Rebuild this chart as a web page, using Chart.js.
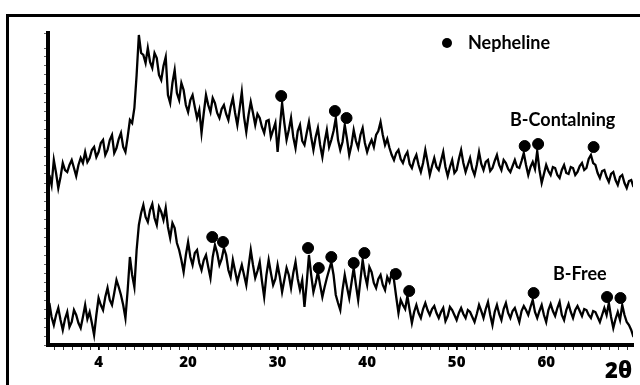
<!DOCTYPE html>
<html>
<head>
<meta charset="utf-8">
<script src="https://cdn.jsdelivr.net/npm/chart.js"></script>
<style>
  html, body { margin: 0; padding: 0; background: #fff; }
  #wrap { width: 640px; height: 385px; }
</style>
</head>
<body>
<div id="wrap"><canvas id="xrdChart" width="640" height="385"></canvas></div>
<script>
// 2θ grid of the two scans (0.25° step, 4.5 .. 70)
const angleStart = 4.5;
const angleStep = 0.25;

// B-Containing scan (upper curve, arbitrary intensity), one row per degree
const containing = [
  170, 160, 185, 172,  157, 168, 182, 175,  173, 180, 185, 177,  169, 180, 187, 182,
  193, 183, 187, 195,  198, 188, 193, 202,  205, 190, 195, 205,  210, 192, 197, 206,
  212, 198, 193, 208,  225, 222, 237, 270,  310, 292, 290, 282,  297, 283, 277, 292,
  287, 270, 265, 279,  288, 250, 242, 262,  275, 252, 245, 262,  255, 240, 233, 245,
  250, 238, 227, 235,  212, 232, 250, 240,  233, 247, 242, 232,  227, 236, 240, 231,
  225, 238, 247, 232,  220, 236, 253, 228,  213, 230, 243, 232,  220, 231, 227, 218,
  212, 224, 225, 208,  215, 222, 193, 218,  242, 222, 205, 215,  227, 208, 197, 214,
  220, 204, 200, 212,  223, 208, 195, 208,  217, 200, 188, 203,  215, 198, 205, 214,
  227, 205, 195, 203,  220, 206, 190, 200,  215, 204, 197, 210,  217, 202, 193, 200,
  205, 198, 210, 214,  223, 210, 200, 206,  197, 190, 185, 192,  195, 186, 182, 189,
  193, 181, 177, 185,  190, 180, 173, 182,  195, 183, 170, 179,  187, 178, 175, 184,
  193, 178, 169, 178,  185, 172, 175, 186,  195, 182, 173, 180,  187, 176, 170, 180,
  193, 181, 175, 183,  185, 174, 177, 184,  190, 180, 175, 185,  182, 176, 173, 179,
  185, 178, 177, 184,  192, 180, 170, 178,  183, 176, 194, 175,  162, 171, 180, 174,
  170, 178, 177, 170,  167, 175, 180, 172,  171, 178, 177, 170,  173, 179, 182, 175,
  177, 186, 190, 182,  180, 172, 167, 174,  175, 168, 163, 171,  173, 165, 160, 168,
  170, 162, 157, 164,  165, 158, 153
];

// B-Free scan (lower curve)
const free = [
  42, 28, 20, 30,  37, 25, 15, 26,  33, 18, 23, 35,  30, 22, 17, 28,
  40, 26, 33, 22,  10, 30, 47, 40,  35, 48, 57, 45,  40, 52, 65, 58,
  50, 40, 27, 55,  88, 70, 58, 95,  120, 132, 140, 128,  123, 135, 141, 127,
  120, 138, 133, 125,  137, 118, 107, 122,  117, 102, 95, 85,  73, 90, 103, 88,
  80, 92, 95, 82,  75, 85, 90, 78,  67, 88, 100, 92,  80, 86, 97, 90,
  75, 68, 85, 74,  63, 72, 80, 70,  60, 78, 95, 80,  67, 74, 83, 64,
  48, 70, 85, 72,  60, 66, 80, 68,  53, 65, 77, 70,  57, 72, 83, 66,
  55, 65, 38, 62,  90, 70, 53, 62,  73, 60, 48, 58,  67, 75, 83, 70,
  50, 42, 35, 55,  70, 58, 47, 62,  77, 60, 45, 65,  85, 70, 60, 78,
  73, 62, 57, 66,  70, 60, 55, 68,  63, 72, 65, 48,  32, 45, 40, 36,
  49, 35, 22, 33,  40, 32, 27, 36,  42, 35, 30, 36,  39, 32, 27, 33,
  37, 24, 29, 38,  35, 30, 25, 32,  37, 31, 27, 35,  33, 28, 23, 31,
  40, 34, 27, 36,  43, 30, 20, 33,  40, 31, 25, 36,  42, 32, 27, 34,
  37, 30, 23, 34,  39, 35, 30, 38,  45, 33, 27, 34,  40, 30, 23, 35,
  41, 34, 29, 37,  43, 30, 25, 35,  41, 33, 27, 35,  39, 34, 29, 36,
  35, 30, 27, 34,  33, 28, 23, 30,  37, 30, 42, 28,  17, 26, 33, 25,
  40, 30, 23, 20,  15, 8, 3
];

// nepheline markers
const containingPeakX = [30.4, 36.4, 37.7, 57.6, 59.1, 65.3];
const containingPeakY = [249, 234, 227, 199, 201, 198];
const freePeakX = [22.7, 23.9, 33.4, 34.6, 36.0, 38.5, 39.7, 43.2, 44.7, 58.6, 66.8, 68.3];
const freePeakY = [108, 103, 97, 77, 88, 82, 92, 71, 54, 52, 48, 47];

// x tick labels as printed on the figure
const xTickValues = [10, 20, 30, 40, 50, 60];
const xTickLabels = ['4', '20', '30', '40', '50', '60'];

const angles = containing.map((v, i) => angleStart + i * angleStep);
const toPoints = (xs, ys) => xs.map((x, i) => ({ x: x, y: ys[i] }));

const boldFont = 'Lato, "Open Sans", sans-serif';

const decorPlugin = {
  id: 'decor',
  beforeDraw(chart) {
    const ctx = chart.ctx;
    ctx.save();
    ctx.fillStyle = '#fff';
    ctx.fillRect(0, 0, chart.width, chart.height);
    // outer frame (top + left visible)
    ctx.fillStyle = '#000';
    ctx.fillRect(6, 14, chart.width - 6, 3);
    ctx.fillRect(6, 14, 3, chart.height - 14);
    ctx.restore();
  },
  afterDraw(chart) {
    const ctx = chart.ctx;
    const xs = chart.scales.x;
    const bottom = chart.chartArea.bottom;
    ctx.save();
    // minor ticks every 1 degree
    ctx.strokeStyle = '#333';
    ctx.lineWidth = 1;
    for (let a = 5; a <= 69; a++) {
      const px = Math.round(xs.getPixelForValue(a)) + 0.5;
      ctx.beginPath();
      ctx.moveTo(px, bottom + 2);
      ctx.lineTo(px, bottom + 5);
      ctx.stroke();
    }
    // legend + curve labels
    ctx.fillStyle = '#000';
    ctx.beginPath();
    ctx.arc(447, 43, 5, 0, Math.PI * 2);
    ctx.fill();
    ctx.textBaseline = 'middle';
    ctx.textAlign = 'left';
    ctx.font = 'bold 18px ' + boldFont;
    ctx.fillText('Nepheline', 468, 43);
    ctx.fillText('B-Contalning', 510, 120);
    ctx.fillText('B-Free', 553, 274);
    ctx.font = '800 22px "Open Sans", sans-serif';
    ctx.fillText('2θ', 605, 372);
    ctx.restore();
  }
};

const xrdChart = new Chart(document.getElementById('xrdChart'), {
  type: 'line',
  data: {
    datasets: [
      {
        label: 'B-Containing',
        data: toPoints(angles, containing),
        borderColor: '#000',
        borderWidth: 2.3,
        pointRadius: 0,
        tension: 0,
        fill: false
      },
      {
        label: 'B-Free',
        data: toPoints(angles, free),
        borderColor: '#000',
        borderWidth: 2.3,
        pointRadius: 0,
        tension: 0,
        fill: false
      },
      {
        type: 'scatter',
        label: 'Nepheline',
        data: toPoints(containingPeakX, containingPeakY).concat(toPoints(freePeakX, freePeakY)),
        backgroundColor: '#000',
        borderColor: '#000',
        pointRadius: 5.5,
        pointHoverRadius: 5.5
      }
    ]
  },
  options: {
    responsive: false,
    animation: false,
    devicePixelRatio: 1,
    layout: { padding: { top: 33, right: 7, left: 0, bottom: 0 } },
    plugins: {
      legend: { display: false },
      tooltip: { enabled: false }
    },
    scales: {
      x: {
        type: 'linear',
        min: 4.35,
        max: 69.7,
        afterBuildTicks: s => { s.ticks = xTickValues.map(v => ({ value: v })); },
        afterFit: s => { s.height = 40; },
        ticks: {
          callback: v => xTickLabels[xTickValues.indexOf(v)],
          color: '#000',
          font: { family: '"Open Sans", sans-serif', weight: '800', size: 15 },
          padding: 4,
          maxRotation: 0,
          autoSkip: false
        },
        grid: { drawOnChartArea: false, drawTicks: true, tickLength: 5, color: '#000' },
        border: { display: true, color: '#000', width: 4 }
      },
      y: {
        min: 0,
        max: 312,
        afterFit: s => { s.width = 48; },
        ticks: { display: false, stepSize: 9, maxTicksLimit: 100 },
        grid: { drawOnChartArea: false, drawTicks: true, tickLength: 4, color: '#666' },
        border: { display: true, color: '#000', width: 4 }
      }
    }
  },
  plugins: [decorPlugin]
});
</script>
</body>
</html>
